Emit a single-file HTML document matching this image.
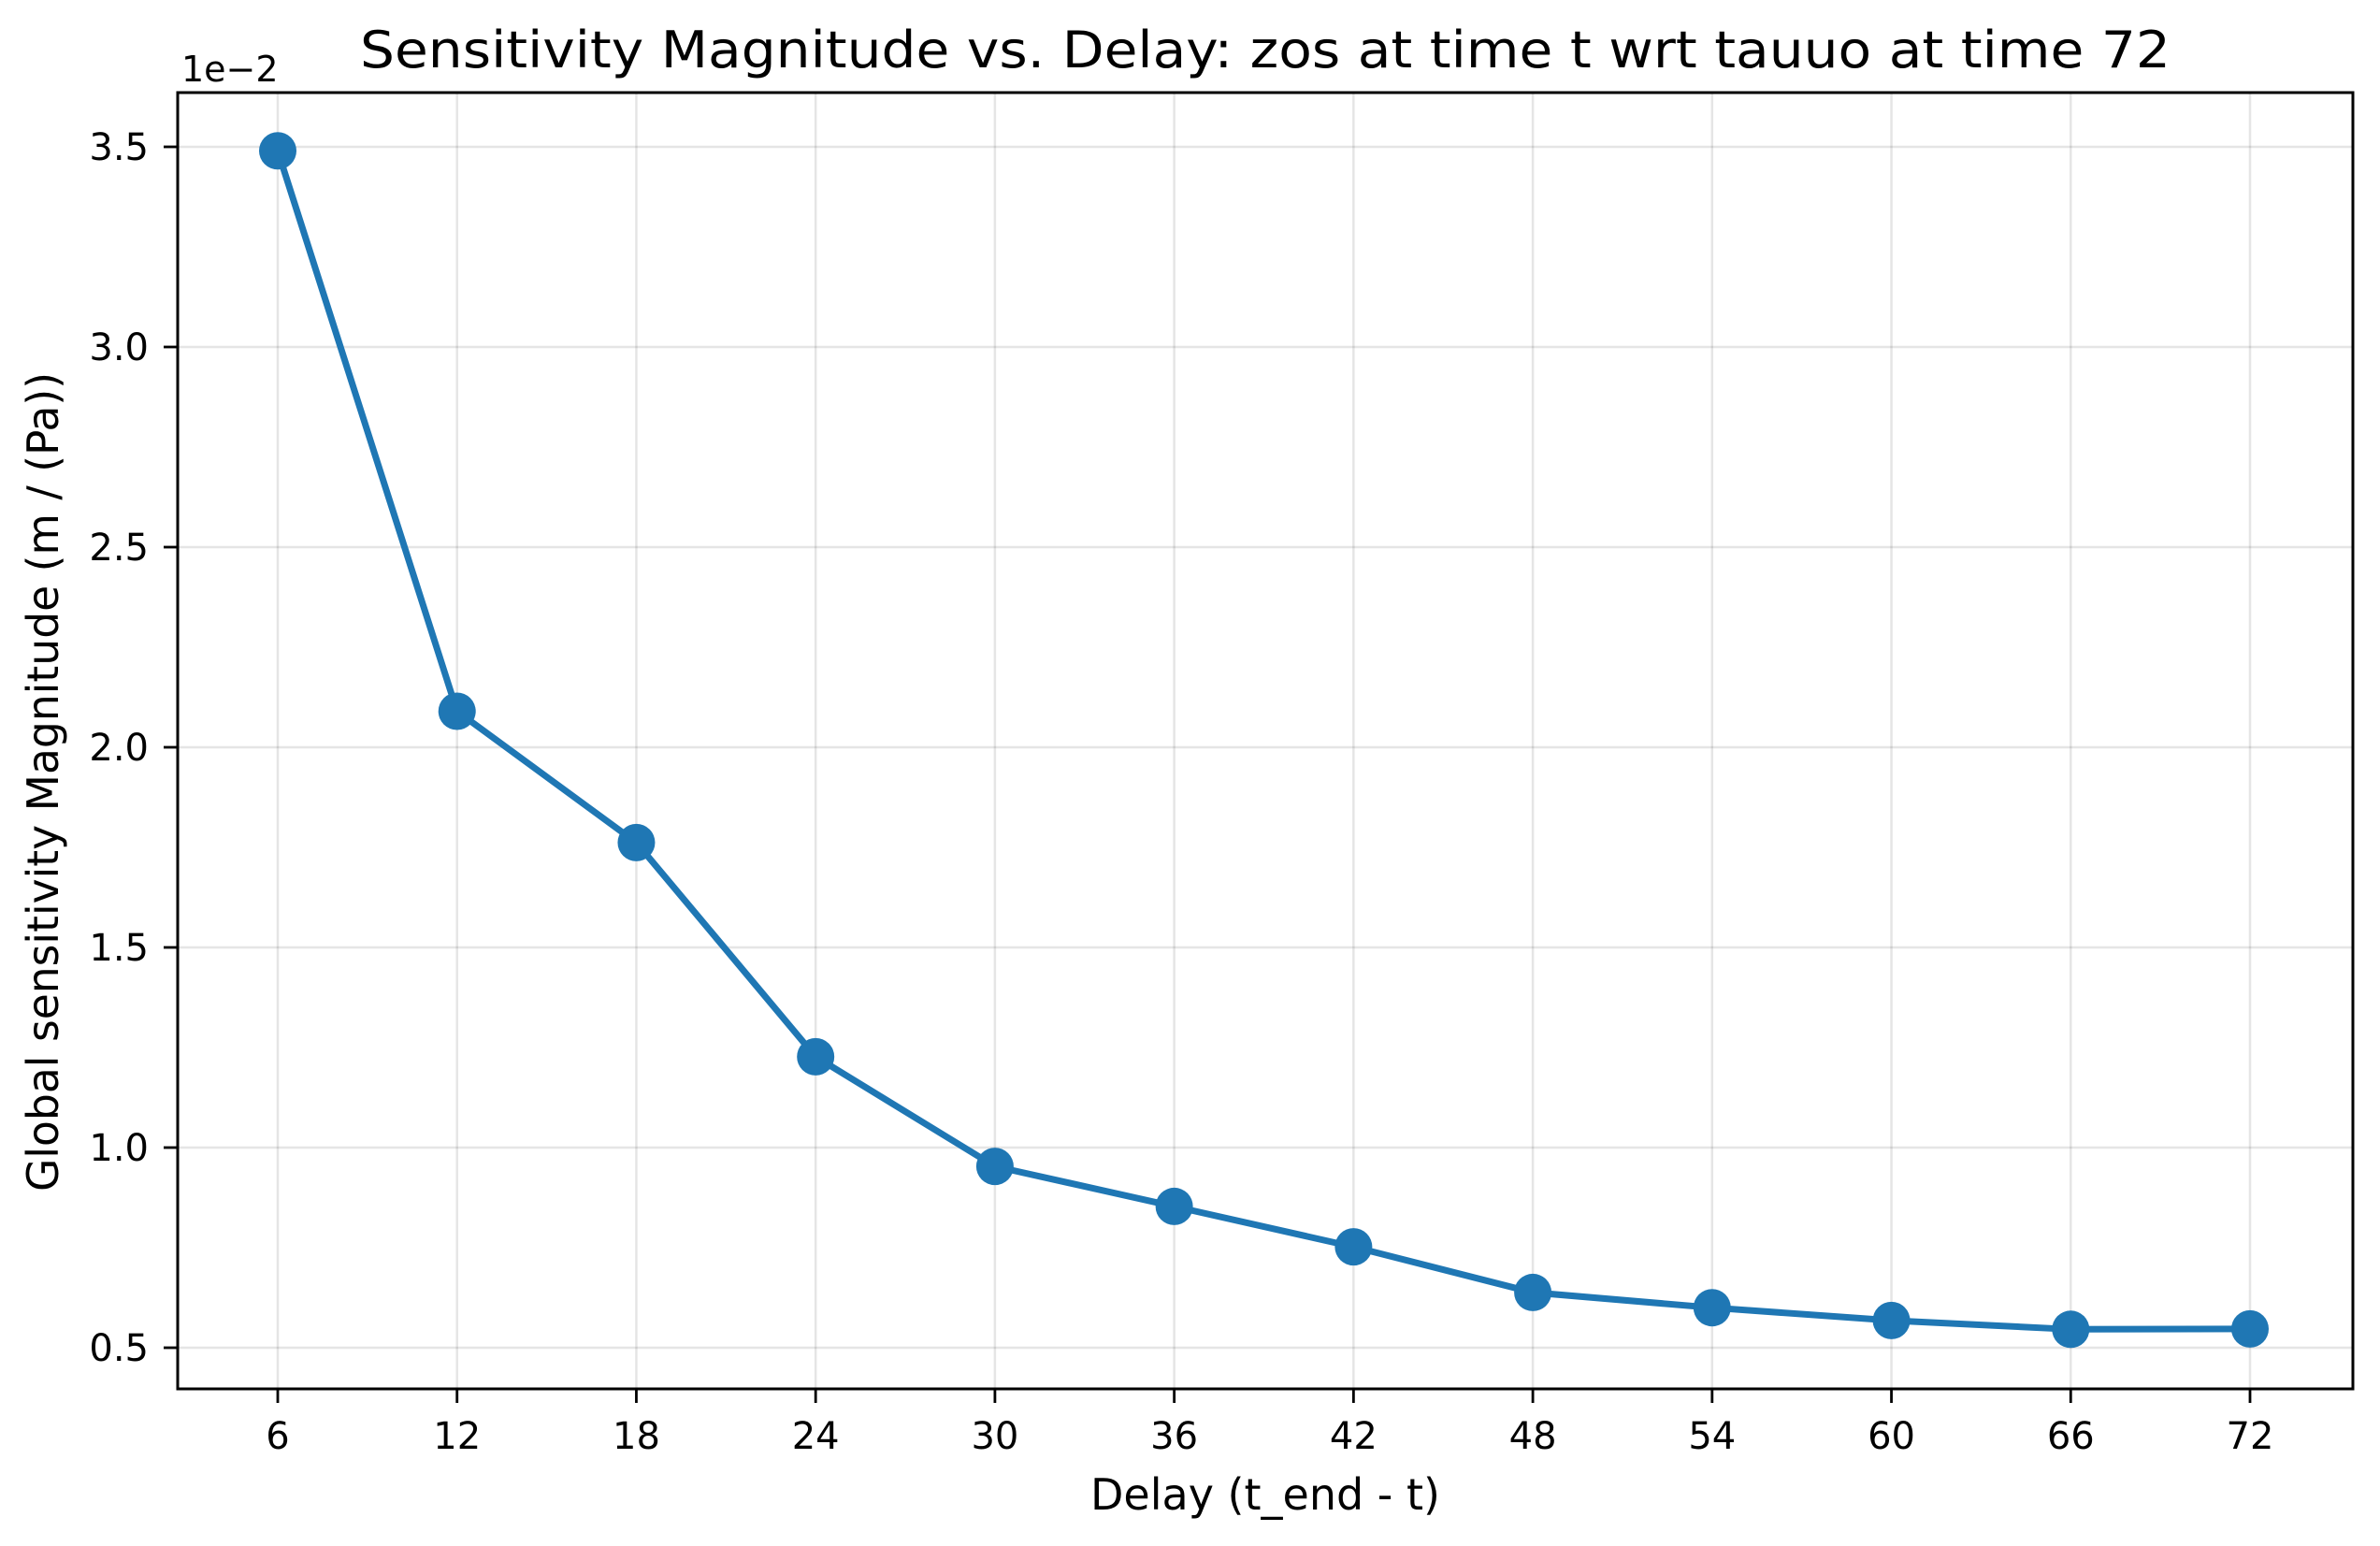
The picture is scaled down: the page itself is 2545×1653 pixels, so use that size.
<!DOCTYPE html>
<html><head><meta charset="utf-8"><style>
html,body{margin:0;padding:0;background:#fff}
svg{display:block;font-family:"DejaVu Sans","Liberation Sans",sans-serif}
</style></head><body>
<svg id="chart" width="2545" height="1653" viewBox="0 0 2545 1653" xmlns="http://www.w3.org/2000/svg">
<rect width="2545" height="1653" fill="#fff"/>
<text x="1353" y="72" font-size="54" text-anchor="middle" textLength="1936" lengthAdjust="spacingAndGlyphs">Sensitivity Magnitude vs. Delay: zos at time t wrt tauuo at time 72</text>
<text x="194" y="87" font-size="38">1e−2</text>
<text x="1353" y="1614" font-size="46" text-anchor="middle">Delay (t_end - t)</text>
<text x="0" y="0" font-size="46" text-anchor="middle" transform="translate(62,836) rotate(-90)" textLength="876" lengthAdjust="spacingAndGlyphs">Global sensitivity Magnitude (m / (Pa))</text>
<g id="grid"></g><g id="ticks"></g><g id="series"></g>
<rect x="190" y="99" width="2326" height="1386" fill="none" stroke="#000" stroke-width="3"/>
</svg>
<script>
const delays = [6,12,18,24,30,36,42,48,54,60,66,72];
const sensitivity = [3.49,2.09,1.762,1.227,0.953,0.853,0.752,0.638,0.600,0.568,0.546,0.547];
const xTicks = [6,12,18,24,30,36,42,48,54,60,66,72];
const yTicks = [0.5,1.0,1.5,2.0,2.5,3.0,3.5];
const yTickLabels = ["0.5","1.0","1.5","2.0","2.5","3.0","3.5"];

const NS="http://www.w3.org/2000/svg";
const L=190,R=2516,T=99,B=1485;
function xs(v){return 297+(v-6)*(2406-297)/66;}
function ys(v){return 1441-(v-0.5)*428;}
function mk(tag,attrs,parent){const e=document.createElementNS(NS,tag);for(const k in attrs)e.setAttribute(k,attrs[k]);parent.appendChild(e);return e;}
const grid=document.getElementById('grid'),ticks=document.getElementById('ticks'),series=document.getElementById('series');
xTicks.forEach(t=>{
  const x=xs(t);
  const g=mk('line',{x1:x,x2:x,y1:T,y2:B,stroke:'#000','stroke-opacity':0.1,'stroke-width':2.5},grid);
  
  
  const tk=mk('line',{x1:x,x2:x,y1:B,y2:B+15,stroke:'#000','stroke-width':2.8},ticks);
  
  
  const tx=mk('text',{x:x,y:1549,'font-size':40,'text-anchor':'middle'},ticks);
  tx.textContent=t;
  
  
});
yTicks.forEach((t,i)=>{
  const y=ys(t);
  const g=mk('line',{x1:L,x2:R,y1:y,y2:y,stroke:'#000','stroke-opacity':0.1,'stroke-width':2.5},grid);
  
  
  const tk=mk('line',{x1:L-15,x2:L,y1:y,y2:y,stroke:'#000','stroke-width':2.8},ticks);
  
  
  const tx=mk('text',{x:159,y:y+14,'font-size':40,'text-anchor':'end'},ticks);
  tx.textContent=yTickLabels[i];
  
  
});
const pts=delays.map((d,i)=>xs(d)+','+ys(sensitivity[i])).join(' ');
const line=mk('polyline',{points:pts,fill:'none',stroke:'#1f77b4','stroke-width':7,'stroke-linejoin':'round'},series);


delays.forEach((d,i)=>{
  const c=mk('circle',{cx:xs(d),cy:ys(sensitivity[i]),r:20,fill:'#1f77b4'},series);
  
  
});
</script>
</body></html>
